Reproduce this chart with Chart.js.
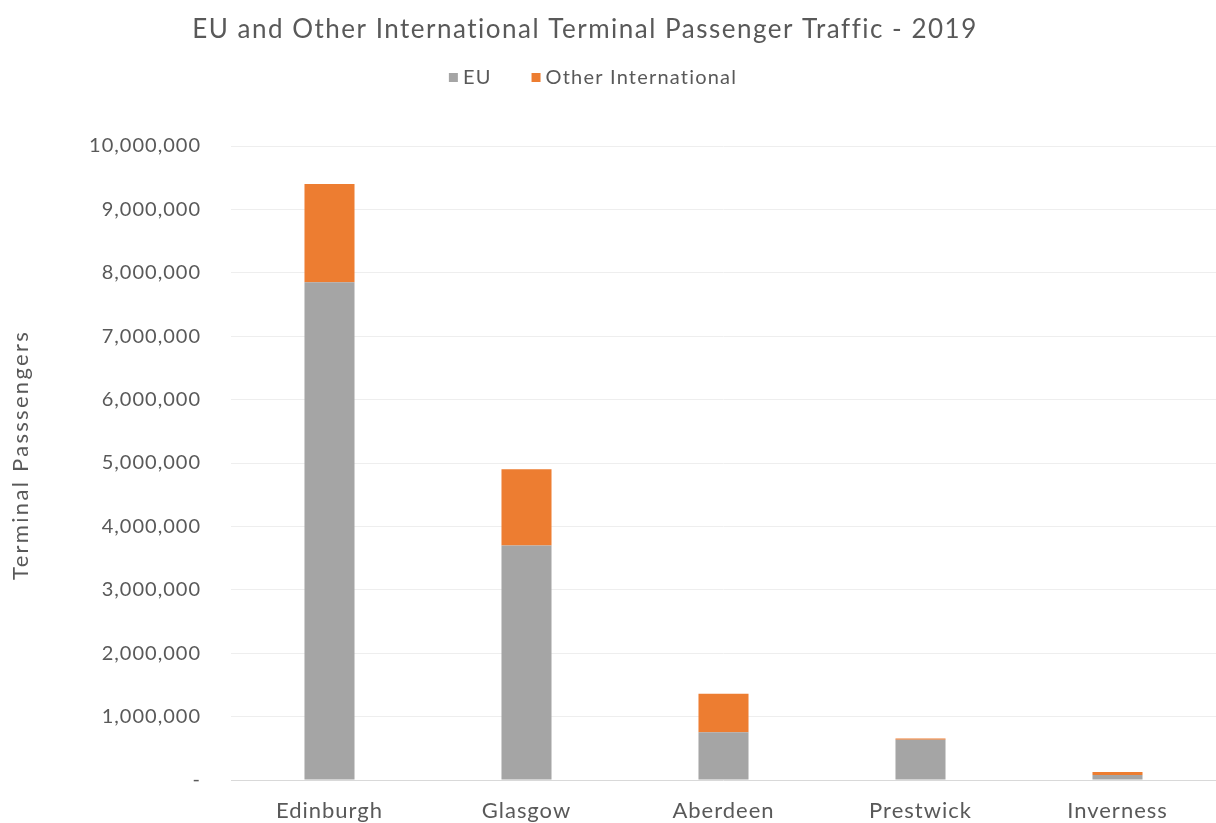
<!DOCTYPE html>
<html>
<head>
<meta charset="utf-8">
<script src="https://cdn.jsdelivr.net/npm/chart.js@4.4.1/dist/chart.umd.min.js"></script>
<style>
  html, body { margin: 0; padding: 0; background: #fff; }
  #wrap { width: 1216px; height: 823px; }
</style>
</head>
<body>
<div id="wrap"><canvas id="trafego" width="1216" height="823"></canvas></div>
<script>
const airports = ['Edinburgh', 'Glasgow', 'Aberdeen', 'Prestwick', 'Inverness'];
const euPax = [7850000, 3700000, 755000, 635000, 80000];
const otherPax = [1550000, 1200000, 605000, 20000, 45000];
const yTicks = [0, 1000000, 2000000, 3000000, 4000000, 5000000, 6000000, 7000000, 8000000, 9000000, 10000000];

const tituloGrafico = 'EU and Other International Terminal Passenger Traffic - 2019';
const tituloEixoY = 'Terminal Passsengers';
const corTexto = '#595959';
const fonte = 'Lato, "Open Sans", sans-serif';

// espacamento das letras dos eixos (o canvas zera isso no resize)
const espacamento = {
  id: 'espacamento',
  beforeDraw(chart) { chart.ctx.letterSpacing = '1px'; }
};

// titulo, legenda e titulo do eixo Y desenhados a mao
const cabecalho = {
  id: 'cabecalho',
  afterDraw(chart) {
    const ctx = chart.ctx;
    ctx.save();
    ctx.fillStyle = corTexto;
    ctx.textBaseline = 'middle';
    ctx.textAlign = 'center';
    ctx.letterSpacing = '1.5px';
    ctx.font = '26px ' + fonte;
    ctx.fillText(tituloGrafico, 585, 30);

    ctx.font = '20px ' + fonte;
    ctx.letterSpacing = '1.2px';
    ctx.textAlign = 'left';
    const itens = chart.data.datasets.map(ds => ({ texto: ds.label, cor: ds.backgroundColor }));
    const caixa = 9, folga = 5, entre = 40;
    let total = 0;
    itens.forEach((it, i) => {
      it.w = caixa + folga + ctx.measureText(it.texto).width;
      total += it.w + (i ? entre : 0);
    });
    let x = 593 - total / 2;
    itens.forEach(it => {
      ctx.fillStyle = it.cor;
      ctx.fillRect(x, 73, caixa, caixa);
      ctx.fillStyle = corTexto;
      ctx.fillText(it.texto, x + caixa + folga, 78);
      x += it.w + entre;
    });

    const area = chart.chartArea;
    ctx.translate(21, (area.top + area.bottom) / 2 - 8);
    ctx.rotate(-Math.PI / 2);
    ctx.textAlign = 'center';
    ctx.letterSpacing = '2.3px';
    ctx.font = '22px ' + fonte;
    ctx.fillText(tituloEixoY, 0, 0);
    ctx.restore();
  }
};

const ctx = document.getElementById('trafego').getContext('2d');
const grafico = new Chart(ctx, {
  type: 'bar',
  data: {
    labels: airports,
    datasets: [
      { label: 'EU', data: euPax, backgroundColor: '#a5a5a5' },
      { label: 'Other International', data: otherPax, backgroundColor: '#ed7d31' }
    ]
  },
  options: {
    responsive: false,
    animation: false,
    layout: { padding: { top: 146, right: 0, bottom: 0, left: 0 } },
    datasets: { bar: { categoryPercentage: 1, barPercentage: 0.254 } },
    plugins: {
      legend: { display: false },
      tooltip: { enabled: false },
      title: { display: false }
    },
    scales: {
      x: {
        stacked: true,
        afterFit(scale) { scale.height = 43; },
        grid: { display: false },
        border: { display: false },
        ticks: { color: corTexto, font: { family: fonte, size: 22 }, padding: 10, maxRotation: 0 }
      },
      y: {
        stacked: true,
        min: 0,
        max: 10000000,
        afterFit(scale) { scale.width = 231; },
        afterBuildTicks(scale) { scale.ticks = yTicks.map(v => ({ value: v })); },
        grid: {
          drawTicks: false,
          color: c => (c.tick && c.tick.value === 0) ? '#d9d9d9' : '#eeeeee'
        },
        border: { display: false },
        ticks: {
          color: corTexto,
          font: { family: fonte, size: 20 },
          padding: 30,
          callback: v => v === 0 ? '-' : v.toLocaleString('en-US')
        }
      }
    }
  },
  plugins: [espacamento, cabecalho]
});
</script>
</body>
</html>
